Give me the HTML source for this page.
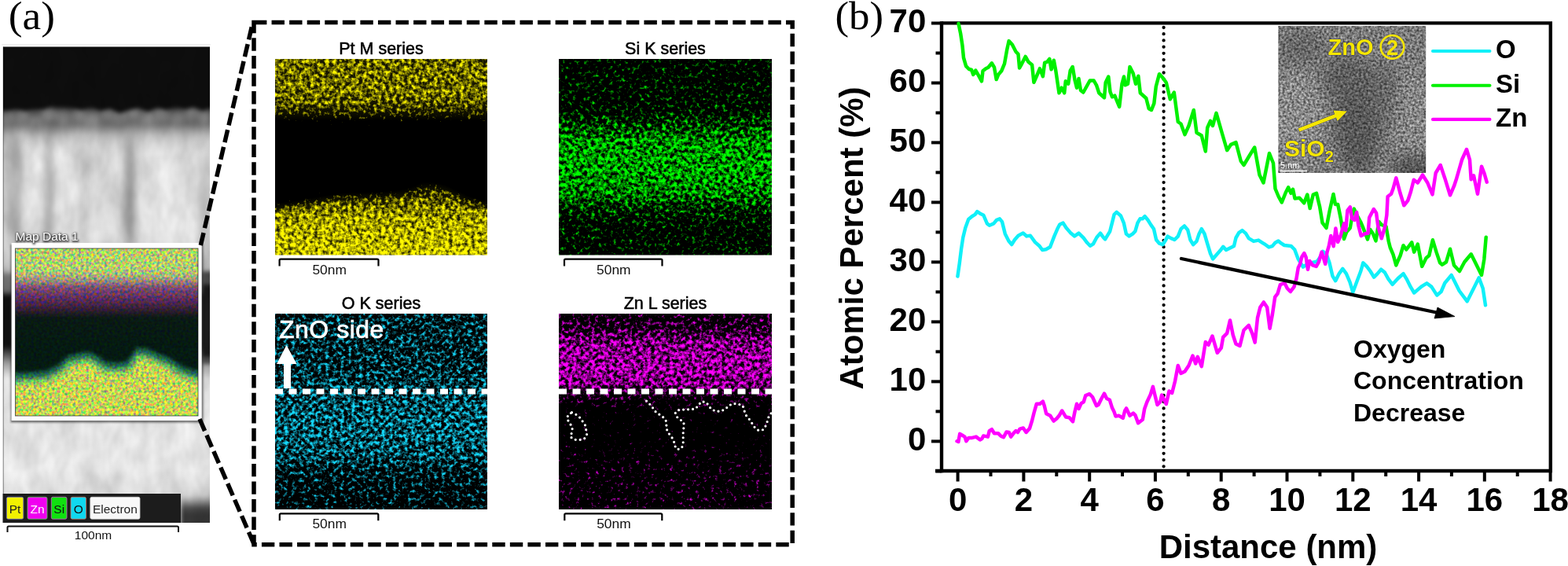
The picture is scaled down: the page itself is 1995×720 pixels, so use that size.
<!DOCTYPE html>
<html><head><meta charset="utf-8"><title>EDS mapping and line profile</title>
<style>html,body{margin:0;padding:0;background:#fff}body{width:1995px;height:720px;overflow:hidden}svg{display:block}</style>
</head><body><svg width="1995" height="720" viewBox="0 0 1995 720"><defs><filter id="fShadow" x="-10%" y="-20%" width="120%" height="140%"><feGaussianBlur stdDeviation="1.1"/></filter><filter id="fPt" filterUnits="userSpaceOnUse" x="330" y="55" width="310" height="289.5" color-interpolation-filters="sRGB">
<feGaussianBlur in="SourceGraphic" stdDeviation="7" result="d"/>
<feTurbulence type="fractalNoise" baseFrequency="0.21" numOctaves="3" seed="3" result="n"/>
<feColorMatrix in="n" type="matrix" values="1 0 0 0 0 1 0 0 0 0 1 0 0 0 0 0 0 0 0 1" result="ng"/>
<feComposite in="d" in2="ng" operator="arithmetic" k1="0" k2="2.2" k3="2.2" k4="-2.2" result="s"/>
<feComponentTransfer in="d" result="base"><feFuncR type="linear" slope="0.22" intercept="-0.06"/><feFuncG type="linear" slope="0.22" intercept="-0.06"/><feFuncB type="linear" slope="0.22" intercept="-0.06"/></feComponentTransfer>
<feBlend in="s" in2="base" mode="lighten" result="s"/>
<feColorMatrix in="s" type="matrix" values="1 0 0 0 0  0.97 0 0 0 0  0 0 0 0 0  0 0 0 0 1"/>
<feGaussianBlur stdDeviation="0.7"/>
</filter><clipPath id="cPt"><rect x="350" y="75" width="270" height="249.5"/></clipPath><linearGradient id="gPtTop" gradientUnits="userSpaceOnUse" x1="0" y1="75" x2="0" y2="175"><stop offset="0.0000" stop-color="rgb(178,178,178)"/><stop offset="0.4300" stop-color="rgb(178,178,178)"/><stop offset="0.5500" stop-color="rgb(171,171,171)"/><stop offset="0.6700" stop-color="rgb(145,145,145)"/><stop offset="0.7700" stop-color="rgb(112,112,112)"/><stop offset="0.8700" stop-color="rgb(82,82,82)"/><stop offset="1.0000" stop-color="rgb(61,61,61)"/></linearGradient><linearGradient id="gPtBot" gradientUnits="userSpaceOnUse" x1="0" y1="212" x2="0" y2="325"><stop offset="0.0000" stop-color="rgb(76,76,76)"/><stop offset="0.1770" stop-color="rgb(117,117,117)"/><stop offset="0.3540" stop-color="rgb(168,168,168)"/><stop offset="0.6018" stop-color="rgb(204,204,204)"/><stop offset="1.0000" stop-color="rgb(217,217,217)"/></linearGradient><filter id="fSi" filterUnits="userSpaceOnUse" x="691" y="55" width="311" height="289.5" color-interpolation-filters="sRGB">
<feGaussianBlur in="SourceGraphic" stdDeviation="5" result="d"/>
<feTurbulence type="fractalNoise" baseFrequency="0.21" numOctaves="3" seed="7" result="n"/>
<feColorMatrix in="n" type="matrix" values="1 0 0 0 0 1 0 0 0 0 1 0 0 0 0 0 0 0 0 1" result="ng"/>
<feComposite in="d" in2="ng" operator="arithmetic" k1="0" k2="3.0" k3="3.0" k4="-3.0" result="s"/>
<feComponentTransfer in="d" result="base"><feFuncR type="linear" slope="0.08" intercept="-0.03"/><feFuncG type="linear" slope="0.08" intercept="-0.03"/><feFuncB type="linear" slope="0.08" intercept="-0.03"/></feComponentTransfer>
<feBlend in="s" in2="base" mode="lighten" result="s"/>
<feColorMatrix in="s" type="matrix" values="0 0 0 0 0  1 0 0 0 0  0 0 0 0 0  0 0 0 0 1"/>
<feGaussianBlur stdDeviation="0.7"/>
</filter><clipPath id="cSi"><rect x="711" y="75" width="271" height="249.5"/></clipPath><linearGradient id="gSi" gradientUnits="userSpaceOnUse" x1="0" y1="75" x2="0" y2="325"><stop offset="0.0000" stop-color="rgb(107,107,107)"/><stop offset="0.2600" stop-color="rgb(112,112,112)"/><stop offset="0.3400" stop-color="rgb(143,143,143)"/><stop offset="0.4200" stop-color="rgb(173,173,173)"/><stop offset="0.5600" stop-color="rgb(178,178,178)"/><stop offset="0.6800" stop-color="rgb(168,168,168)"/><stop offset="0.7600" stop-color="rgb(133,133,133)"/><stop offset="0.8600" stop-color="rgb(112,112,112)"/><stop offset="1.0000" stop-color="rgb(110,110,110)"/></linearGradient><filter id="fO" filterUnits="userSpaceOnUse" x="330" y="379" width="310" height="289" color-interpolation-filters="sRGB">
<feGaussianBlur in="SourceGraphic" stdDeviation="5" result="d"/>
<feTurbulence type="fractalNoise" baseFrequency="0.21" numOctaves="3" seed="11" result="n"/>
<feColorMatrix in="n" type="matrix" values="1 0 0 0 0 1 0 0 0 0 1 0 0 0 0 0 0 0 0 1" result="ng"/>
<feComposite in="d" in2="ng" operator="arithmetic" k1="0" k2="3.0" k3="3.0" k4="-3.0" result="s"/>
<feComponentTransfer in="d" result="base"><feFuncR type="linear" slope="0.08" intercept="-0.03"/><feFuncG type="linear" slope="0.08" intercept="-0.03"/><feFuncB type="linear" slope="0.08" intercept="-0.03"/></feComponentTransfer>
<feBlend in="s" in2="base" mode="lighten" result="s"/>
<feColorMatrix in="s" type="matrix" values="0.08 0 0 0 0  0.86 0 0 0 0  1 0 0 0 0  0 0 0 0 1"/>
<feGaussianBlur stdDeviation="0.7"/>
</filter><clipPath id="cO"><rect x="350" y="399" width="270" height="249"/></clipPath><linearGradient id="gO" gradientUnits="userSpaceOnUse" x1="0" y1="399" x2="0" y2="648"><stop offset="0.0000" stop-color="rgb(135,135,135)"/><stop offset="0.2851" stop-color="rgb(140,140,140)"/><stop offset="0.4257" stop-color="rgb(153,153,153)"/><stop offset="0.5663" stop-color="rgb(161,161,161)"/><stop offset="0.7269" stop-color="rgb(153,153,153)"/><stop offset="0.8072" stop-color="rgb(128,128,128)"/><stop offset="1.0000" stop-color="rgb(112,112,112)"/></linearGradient><filter id="fZn" filterUnits="userSpaceOnUse" x="691" y="379" width="311" height="289" color-interpolation-filters="sRGB">
<feGaussianBlur in="SourceGraphic" stdDeviation="4" result="d"/>
<feTurbulence type="fractalNoise" baseFrequency="0.21" numOctaves="3" seed="5" result="n"/>
<feColorMatrix in="n" type="matrix" values="1 0 0 0 0 1 0 0 0 0 1 0 0 0 0 0 0 0 0 1" result="ng"/>
<feComposite in="d" in2="ng" operator="arithmetic" k1="0" k2="3.0" k3="3.0" k4="-3.0" result="s"/>
<feComponentTransfer in="d" result="base"><feFuncR type="linear" slope="0.08" intercept="-0.03"/><feFuncG type="linear" slope="0.08" intercept="-0.03"/><feFuncB type="linear" slope="0.08" intercept="-0.03"/></feComponentTransfer>
<feBlend in="s" in2="base" mode="lighten" result="s"/>
<feColorMatrix in="s" type="matrix" values="1 0 0 0 0  0 0 0 0 0  1 0 0 0 0  0 0 0 0 1"/>
<feGaussianBlur stdDeviation="0.7"/>
</filter><clipPath id="cZn"><rect x="711" y="399" width="271" height="249"/></clipPath><linearGradient id="gZn" gradientUnits="userSpaceOnUse" x1="0" y1="399" x2="0" y2="648"><stop offset="0.0000" stop-color="rgb(112,112,112)"/><stop offset="0.0763" stop-color="rgb(128,128,128)"/><stop offset="0.1446" stop-color="rgb(168,168,168)"/><stop offset="0.2851" stop-color="rgb(176,176,176)"/><stop offset="0.3655" stop-color="rgb(166,166,166)"/><stop offset="0.4177" stop-color="rgb(120,120,120)"/><stop offset="0.4618" stop-color="rgb(102,102,102)"/><stop offset="0.5100" stop-color="rgb(71,71,71)"/><stop offset="0.6466" stop-color="rgb(71,71,71)"/><stop offset="0.7671" stop-color="rgb(97,97,97)"/><stop offset="1.0000" stop-color="rgb(102,102,102)"/></linearGradient><filter id="fCM" filterUnits="userSpaceOnUse" x="0" y="296" width="272" height="253" color-interpolation-filters="sRGB">
<feGaussianBlur in="SourceGraphic" stdDeviation="2.2" result="d"/>
<feTurbulence type="fractalNoise" baseFrequency="0.3" numOctaves="2" seed="9" result="n"/>
<feColorMatrix in="n" type="matrix" values="1.1 0.6 0 0 -0.35  0.4 -0.8 0 0 0.7  -1.0 0.4 1.1 0 0.25  0 0 0 0 1" result="nc"/>
<feComposite in="d" in2="nc" operator="arithmetic" k1="1.6" k2="0.2" k3="0" k4="0"/>
<feGaussianBlur stdDeviation="0.6"/>
</filter><clipPath id="cCM"><rect x="19.5" y="316" width="232.5" height="213"/></clipPath><linearGradient id="gCMtop" gradientUnits="userSpaceOnUse" x1="0" y1="296" x2="0" y2="440"><stop offset="0.0000" stop-color="rgb(184,209,102)"/><stop offset="0.3403" stop-color="rgb(178,204,112)"/><stop offset="0.4167" stop-color="rgb(158,148,128)"/><stop offset="0.4861" stop-color="rgb(122,76,112)"/><stop offset="0.5833" stop-color="rgb(92,46,92)"/><stop offset="0.6806" stop-color="rgb(51,31,51)"/><stop offset="0.7500" stop-color="rgb(10,26,20)"/><stop offset="1.0000" stop-color="rgb(5,26,18)"/></linearGradient><filter id="fST" filterUnits="userSpaceOnUse" x="-16" y="40" width="303" height="645" color-interpolation-filters="sRGB">
<feGaussianBlur in="SourceGraphic" stdDeviation="2.5" result="d"/>
<feTurbulence type="fractalNoise" baseFrequency="0.04 0.022" numOctaves="3" seed="4" result="n"/>
<feColorMatrix in="n" type="matrix" values="1 0 0 0 0 1 0 0 0 0 1 0 0 0 0 0 0 0 0 1" result="ng"/>
<feComposite in="d" in2="ng" operator="arithmetic" k1="0.26" k2="0.88" k3="0" k4="0"/>
</filter><filter id="fStreak" filterUnits="userSpaceOnUse" x="-30" y="100" width="330" height="260"><feGaussianBlur stdDeviation="5 12"/></filter><filter id="fBump" filterUnits="userSpaceOnUse" x="-30" y="100" width="330" height="120"><feGaussianBlur stdDeviation="3.5 3"/></filter><clipPath id="cST"><rect x="4" y="59.5" width="263" height="605.5"/></clipPath><linearGradient id="gCorner" gradientUnits="userSpaceOnUse" x1="0" y1="620" x2="0" y2="680"><stop offset="0.0000" stop-color="rgb(219,219,219)"/><stop offset="0.1667" stop-color="rgb(204,204,204)"/><stop offset="0.3000" stop-color="rgb(140,140,140)"/><stop offset="0.4333" stop-color="rgb(71,71,71)"/><stop offset="0.5667" stop-color="rgb(51,51,51)"/><stop offset="1.0000" stop-color="rgb(51,51,51)"/></linearGradient><linearGradient id="gST" gradientUnits="userSpaceOnUse" x1="0" y1="59.5" x2="0" y2="665"><stop offset="0.0000" stop-color="rgb(13,13,13)"/><stop offset="0.1247" stop-color="rgb(13,13,13)"/><stop offset="0.1346" stop-color="rgb(71,71,71)"/><stop offset="0.1627" stop-color="rgb(102,102,102)"/><stop offset="0.1858" stop-color="rgb(163,163,163)"/><stop offset="0.2238" stop-color="rgb(207,207,207)"/><stop offset="0.2981" stop-color="rgb(214,214,214)"/><stop offset="0.3972" stop-color="rgb(214,214,214)"/><stop offset="0.4550" stop-color="rgb(196,196,196)"/><stop offset="0.4699" stop-color="rgb(178,178,178)"/><stop offset="0.4798" stop-color="rgb(117,117,117)"/><stop offset="0.5128" stop-color="rgb(102,102,102)"/><stop offset="0.5244" stop-color="rgb(15,15,15)"/><stop offset="0.6284" stop-color="rgb(15,15,15)"/><stop offset="0.6647" stop-color="rgb(153,153,153)"/><stop offset="0.6978" stop-color="rgb(222,222,222)"/><stop offset="0.8927" stop-color="rgb(227,227,227)"/><stop offset="0.9257" stop-color="rgb(219,219,219)"/><stop offset="1.0000" stop-color="rgb(214,214,214)"/></linearGradient><filter id="fIN" filterUnits="userSpaceOnUse" x="1606" y="13" width="228" height="227" color-interpolation-filters="sRGB">
<feGaussianBlur in="SourceGraphic" stdDeviation="9" result="d"/>
<feTurbulence type="fractalNoise" baseFrequency="0.34" numOctaves="2" seed="12" result="n"/>
<feColorMatrix in="n" type="matrix" values="1 0 0 0 0 1 0 0 0 0 1 0 0 0 0 0 0 0 0 1" result="ng"/>
<feComposite in="d" in2="ng" operator="arithmetic" k1="1.7" k2="0.15" k3="0" k4="0"/>
<feGaussianBlur stdDeviation="0.5"/>
</filter><clipPath id="cIN"><rect x="1626.4" y="33" width="187.8" height="187"/></clipPath></defs><text x="10.8" y="36.6" font-family="Liberation Serif" font-size="50.5" textLength="59.2" lengthAdjust="spacingAndGlyphs">(a)</text><line x1="2" y1="56.8" x2="268" y2="56.8" stroke="#e6e6e6" stroke-width="1"/><g clip-path="url(#cST)"><g filter="url(#fST)"><rect x="-16" y="40" width="303" height="645" fill="url(#gST)"/><g filter="url(#fStreak)" opacity="0.95"><rect x="4" y="178" width="12" height="140" fill="rgb(189,189,189)"/><rect x="16" y="178" width="12" height="140" fill="rgb(163,163,163)"/><rect x="28" y="178" width="28" height="140" fill="rgb(224,224,224)"/><rect x="56" y="178" width="12" height="140" fill="rgb(158,158,158)"/><rect x="68" y="178" width="34" height="140" fill="rgb(222,222,222)"/><rect x="102" y="178" width="10" height="140" fill="rgb(184,184,184)"/><rect x="112" y="178" width="44" height="140" fill="rgb(214,214,214)"/><rect x="157" y="178" width="16" height="140" fill="rgb(143,143,143)"/><rect x="173" y="178" width="78" height="140" fill="rgb(224,224,224)"/><rect x="251" y="178" width="20" height="140" fill="rgb(194,194,194)"/></g><g filter="url(#fBump)" opacity="0.7"><circle cx="10" cy="150" r="9" fill="#8a8a8a"/><circle cx="28" cy="148" r="8" fill="#8a8a8a"/><circle cx="45" cy="154" r="8" fill="#8a8a8a"/><circle cx="62" cy="146" r="9" fill="#8a8a8a"/><circle cx="80" cy="150" r="10" fill="#8a8a8a"/><circle cx="100" cy="147" r="8" fill="#8a8a8a"/><circle cx="118" cy="152" r="9" fill="#8a8a8a"/><circle cx="136" cy="146" r="8" fill="#8a8a8a"/><circle cx="152" cy="150" r="9" fill="#8a8a8a"/><circle cx="170" cy="144" r="8" fill="#8a8a8a"/><circle cx="188" cy="151" r="9" fill="#8a8a8a"/><circle cx="206" cy="146" r="10" fill="#8a8a8a"/><circle cx="226" cy="150" r="8" fill="#8a8a8a"/><circle cx="244" cy="145" r="9" fill="#8a8a8a"/><circle cx="260" cy="149" r="8" fill="#8a8a8a"/></g><path d="M-16,40 H290 V138 L280,140 L268,137 L258,141 L246,136 L236,139 L224,135 L212,140 L200,137 L188,142 L176,137 L164,140 L152,144 L140,138 L128,141 L116,136 L104,140 L92,137 L80,135 L68,134 L56,139 L44,139 L32,141 L20,139 L8,141 L-16,138 Z" fill="#0d0d0d"/><rect x="257" y="345" width="30" height="118" fill="#4a4a4a"/><rect x="257" y="362" width="30" height="92" fill="#1a1a1a"/><rect x="230" y="620" width="60" height="60" fill="url(#gCorner)"/></g></g><line x1="4.2" y1="59.5" x2="4.2" y2="665" stroke="#000" stroke-width="0.8" opacity="0.6"/><rect x="13.5" y="311" width="245" height="226.5" fill="#222" opacity="0.6" filter="url(#fShadow)"/><rect x="14.6" y="309" width="242.1" height="226" fill="#fff"/><g clip-path="url(#cCM)"><g filter="url(#fCM)"><rect x="0" y="296" width="272" height="253" fill="url(#gCMtop)"/><path d="M0,476 L20,475 L40,474 L60,472 L78,463 L88,453 L100,450 L112,448 L124,454 L134,461 L150,462 L164,460 L171,450 L176,443 L186,444 L200,450 L215,456 L230,466 L245,471 L262,474 L272,475 L272,549 L0,549 Z" fill="rgb(196,212,86)"/><path d="M0,476 L20,475 L40,474 L60,472 L78,463 L88,453 L100,450 L112,448 L124,454 L134,461 L150,462 L164,460 L171,450 L176,443 L186,444 L200,450 L215,456 L230,466 L245,471 L262,474 L272,475" transform="translate(0,4)" fill="none" stroke="rgb(30,100,78)" stroke-width="9"/><path d="M0,476 L20,475 L40,474 L60,472 L78,463 L88,453 L100,450 L112,448 L124,454 L134,461 L150,462 L164,460 L171,450 L176,443 L186,444 L200,450 L215,456 L230,466 L245,471 L262,474 L272,475" transform="translate(0,11)" fill="none" stroke="rgb(110,180,100)" stroke-width="8" opacity="0.8"/></g></g><rect x="19.5" y="316" width="232.5" height="213" fill="none" stroke="#000" stroke-width="1" opacity="0.6"/><text x="20" y="306.5" font-family="Liberation Sans" font-size="15.5" fill="#222" stroke="#222" stroke-width="2" opacity="0.75" filter="url(#fShadow)">Map Data 1</text><text x="19.5" y="306" font-family="Liberation Sans" font-size="15.5" fill="#fff">Map Data 1</text><rect x="3.6" y="628" width="226.4" height="37" fill="#1c1c1c"/><rect x="8.4" y="632.3" width="21.4" height="28" rx="2" fill="#f2f200" stroke="#6a6ad0" stroke-width="0.8"/><text x="19.1" y="653.3" font-family="Liberation Sans" font-size="15.5" fill="#222" text-anchor="middle">Pt</text><rect x="35" y="632.3" width="25.0" height="28" rx="2" fill="#f000f0" stroke="#60d060" stroke-width="0.8"/><text x="47.5" y="653.3" font-family="Liberation Sans" font-size="15.5" fill="#fff" text-anchor="middle">Zn</text><rect x="65.3" y="632.3" width="19.7" height="28" rx="2" fill="#10e010" stroke="#d060d0" stroke-width="0.8"/><text x="75.2" y="653.3" font-family="Liberation Sans" font-size="15.5" fill="#111" text-anchor="middle">Si</text><rect x="90" y="632.3" width="19.5" height="28" rx="2" fill="#10d8f0" stroke="#d07060" stroke-width="0.8"/><text x="99.8" y="653.3" font-family="Liberation Sans" font-size="15.5" fill="#111" text-anchor="middle">O</text><rect x="114.8" y="632.3" width="63.2" height="28" rx="2" fill="#f8f8f8" stroke="#ccc" stroke-width="0.8"/><text x="146.4" y="653.3" font-family="Liberation Sans" font-size="15.5" fill="#222" text-anchor="middle">Electron</text><path d="M9.5,677 V671 Q9.5,669.5 11,669.5 H225.5 Q227,669.5 227,671 V677" fill="none" stroke="#111" stroke-width="2"/><text x="118.5" y="686" font-family="Liberation Sans" font-size="15.5" text-anchor="middle" fill="#111">100nm</text><g clip-path="url(#cPt)"><g filter="url(#fPt)"><rect x="330" y="55" width="310" height="289.5" fill="#000"/><rect x="330" y="55" width="310" height="100" fill="url(#gPtTop)"/><path d="M330,266 L352,260 L381,256 L435,246 L489,245 L515,241 L528,238 L533,229 L562,232 L598,252 L640,262 L640,345 L330,345 Z" fill="url(#gPtBot)"/></g></g><g clip-path="url(#cSi)"><g filter="url(#fSi)"><rect x="691" y="55" width="311" height="289.5" fill="#000"/><rect x="691" y="55" width="311" height="289.5" fill="url(#gSi)"/></g></g><g clip-path="url(#cO)"><g filter="url(#fO)"><rect x="330" y="379" width="310" height="289" fill="#000"/><rect x="330" y="379" width="310" height="289" fill="url(#gO)"/></g></g><g clip-path="url(#cZn)"><g filter="url(#fZn)"><rect x="691" y="379" width="311" height="289" fill="#000"/><rect x="691" y="379" width="311" height="289" fill="url(#gZn)"/></g></g><text x="485" y="69" font-family="Liberation Sans" font-size="21.5" stroke="#000" stroke-width="0.55" text-anchor="middle">Pt M series</text><text x="846.5" y="69" font-family="Liberation Sans" font-size="21.5" stroke="#000" stroke-width="0.55" text-anchor="middle">Si K series</text><text x="485" y="393" font-family="Liberation Sans" font-size="21.5" stroke="#000" stroke-width="0.55" text-anchor="middle">O K series</text><text x="846.5" y="393" font-family="Liberation Sans" font-size="21.5" stroke="#000" stroke-width="0.55" text-anchor="middle">Zn L series</text><path d="M355.6,338.6 V331.1 Q355.6,329.6 357.1,329.6 H480.0 Q481.5,329.6 481.5,331.1 V338.6" fill="none" stroke="#000" stroke-width="2.2"/><text x="419.15000000000003" y="348.5" font-family="Liberation Sans" font-size="17.4" text-anchor="middle" fill="#111">50nm</text><path d="M718,338.6 V331.1 Q718,329.6 719.5,329.6 H841.0 Q842.5,329.6 842.5,331.1 V338.6" fill="none" stroke="#000" stroke-width="2.2"/><text x="780.85" y="348.5" font-family="Liberation Sans" font-size="17.4" text-anchor="middle" fill="#111">50nm</text><path d="M355.8,662.3 V654.8 Q355.8,653.3 357.3,653.3 H479.8 Q481.3,653.3 481.3,654.8 V662.3" fill="none" stroke="#000" stroke-width="2.2"/><text x="419.15000000000003" y="672.2" font-family="Liberation Sans" font-size="17.4" text-anchor="middle" fill="#111">50nm</text><path d="M718.3,662.3 V654.8 Q718.3,653.3 719.8,653.3 H840.8 Q842.3,653.3 842.3,654.8 V662.3" fill="none" stroke="#000" stroke-width="2.2"/><text x="780.9" y="672.2" font-family="Liberation Sans" font-size="17.4" text-anchor="middle" fill="#111">50nm</text><line x1="350" y1="498" x2="620" y2="498" stroke="#fff" stroke-width="7" stroke-dasharray="10 7.5"/><line x1="711" y1="498" x2="982" y2="498" stroke="#fff" stroke-width="7" stroke-dasharray="10 7.5"/><text x="355" y="430" font-family="Liberation Sans" font-size="32" fill="#fff" stroke="#fff" stroke-width="0.7" letter-spacing="0.5">ZnO side</text><path d="M361,494 V463 H352 L364.5,439 L377.5,463 H370 V494 Z" fill="#fff"/><polyline points="727.5,524.7 733.3,527.5 738.3,531.7 741.7,536.7 745.0,541.7 745.8,547.5 746.7,553.3 743.3,558.3 736.7,559.7 730.8,559.2 725.8,555.8 727.5,550.0 728.3,544.2 725.0,538.3 721.7,533.3 722.5,528.3 727.5,524.7" fill="none" stroke="#fff" stroke-width="3.2" stroke-dasharray="0 6" stroke-linecap="round" stroke-linejoin="round"/><polyline points="822.5,510.0 828.3,515.8 835.0,525.0 840.8,528.3 845.8,532.5 848.3,537.5 847.5,544.2 850.0,550.0 855.0,556.7 857.5,561.7 858.3,566.7 861.7,571.7 867.5,570.0 869.2,563.3 869.2,556.7 869.2,550.0 870.0,543.3 870.0,537.5 865.0,533.3 860.8,530.0 859.2,525.0 863.3,521.7 871.7,520.8 878.3,520.8 885.0,520.0 888.3,515.8 892.5,510.8 898.3,511.7 901.7,515.8 905.0,520.8 911.7,523.3 917.5,523.0 923.3,520.0 927.5,515.8 933.3,513.3 940.0,514.2 945.0,515.8 946.7,521.7 949.2,528.3 953.3,533.3 956.7,538.3 960.0,543.3 965.0,547.5 970.8,546.7 974.2,541.7 976.7,535.0 978.3,529.2 981.7,525.0" fill="none" stroke="#fff" stroke-width="3.2" stroke-dasharray="0 6" stroke-linecap="round" stroke-linejoin="round"/><path d="M323,28.5 H1008.2 V692.8 H323 Z" fill="none" stroke="#000" stroke-width="5.5" stroke-dasharray="16.4 6.166"/><line x1="255.3" y1="312" x2="321.5" y2="29" stroke="#000" stroke-width="5.5" stroke-dasharray="16.4 6"/><line x1="254" y1="533" x2="323.5" y2="693" stroke="#000" stroke-width="5.5" stroke-dasharray="16.4 6"/><path d="M1198,29.4 H1972.8 V599 H1190" fill="none" stroke="#000" stroke-width="4.4"/><line x1="1198" y1="27.2" x2="1198" y2="601.2" stroke="#000" stroke-width="4.4"/><line x1="1190.5" y1="599.4" x2="1198" y2="599.4" stroke="#000" stroke-width="4"/><line x1="1185" y1="561.4" x2="1198" y2="561.4" stroke="#000" stroke-width="4"/><text x="1178.3" y="572.6" font-family="Liberation Sans" font-weight="bold" font-size="42" text-anchor="end">0</text><line x1="1190.5" y1="523.4" x2="1198" y2="523.4" stroke="#000" stroke-width="4"/><line x1="1185" y1="485.4" x2="1198" y2="485.4" stroke="#000" stroke-width="4"/><text x="1178.3" y="496.6" font-family="Liberation Sans" font-weight="bold" font-size="42" text-anchor="end">10</text><line x1="1190.5" y1="447.4" x2="1198" y2="447.4" stroke="#000" stroke-width="4"/><line x1="1185" y1="409.4" x2="1198" y2="409.4" stroke="#000" stroke-width="4"/><text x="1178.3" y="420.6" font-family="Liberation Sans" font-weight="bold" font-size="42" text-anchor="end">20</text><line x1="1190.5" y1="371.4" x2="1198" y2="371.4" stroke="#000" stroke-width="4"/><line x1="1185" y1="333.4" x2="1198" y2="333.4" stroke="#000" stroke-width="4"/><text x="1178.3" y="344.6" font-family="Liberation Sans" font-weight="bold" font-size="42" text-anchor="end">30</text><line x1="1190.5" y1="295.4" x2="1198" y2="295.4" stroke="#000" stroke-width="4"/><line x1="1185" y1="257.4" x2="1198" y2="257.4" stroke="#000" stroke-width="4"/><text x="1178.3" y="268.6" font-family="Liberation Sans" font-weight="bold" font-size="42" text-anchor="end">40</text><line x1="1190.5" y1="219.4" x2="1198" y2="219.4" stroke="#000" stroke-width="4"/><line x1="1185" y1="181.4" x2="1198" y2="181.4" stroke="#000" stroke-width="4"/><text x="1178.3" y="192.6" font-family="Liberation Sans" font-weight="bold" font-size="42" text-anchor="end">50</text><line x1="1190.5" y1="143.5" x2="1198" y2="143.5" stroke="#000" stroke-width="4"/><line x1="1185" y1="105.5" x2="1198" y2="105.5" stroke="#000" stroke-width="4"/><text x="1178.3" y="116.7" font-family="Liberation Sans" font-weight="bold" font-size="42" text-anchor="end">60</text><line x1="1190.5" y1="67.5" x2="1198" y2="67.5" stroke="#000" stroke-width="4"/><line x1="1185" y1="29.5" x2="1198" y2="29.5" stroke="#000" stroke-width="4"/><text x="1178.3" y="40.7" font-family="Liberation Sans" font-weight="bold" font-size="42" text-anchor="end">70</text><line x1="1218.6" y1="599" x2="1218.6" y2="612.5" stroke="#000" stroke-width="4"/><text x="1218.6" y="650" font-family="Liberation Sans" font-weight="bold" font-size="42" text-anchor="middle">0</text><line x1="1260.5" y1="599" x2="1260.5" y2="606" stroke="#000" stroke-width="4"/><line x1="1302.4" y1="599" x2="1302.4" y2="612.5" stroke="#000" stroke-width="4"/><text x="1302.4" y="650" font-family="Liberation Sans" font-weight="bold" font-size="42" text-anchor="middle">2</text><line x1="1344.3" y1="599" x2="1344.3" y2="606" stroke="#000" stroke-width="4"/><line x1="1386.2" y1="599" x2="1386.2" y2="612.5" stroke="#000" stroke-width="4"/><text x="1386.2" y="650" font-family="Liberation Sans" font-weight="bold" font-size="42" text-anchor="middle">4</text><line x1="1428.0" y1="599" x2="1428.0" y2="606" stroke="#000" stroke-width="4"/><line x1="1469.9" y1="599" x2="1469.9" y2="612.5" stroke="#000" stroke-width="4"/><text x="1469.9" y="650" font-family="Liberation Sans" font-weight="bold" font-size="42" text-anchor="middle">6</text><line x1="1511.8" y1="599" x2="1511.8" y2="606" stroke="#000" stroke-width="4"/><line x1="1553.7" y1="599" x2="1553.7" y2="612.5" stroke="#000" stroke-width="4"/><text x="1553.7" y="650" font-family="Liberation Sans" font-weight="bold" font-size="42" text-anchor="middle">8</text><line x1="1595.6" y1="599" x2="1595.6" y2="606" stroke="#000" stroke-width="4"/><line x1="1637.5" y1="599" x2="1637.5" y2="612.5" stroke="#000" stroke-width="4"/><text x="1637.5" y="650" font-family="Liberation Sans" font-weight="bold" font-size="42" text-anchor="middle">10</text><line x1="1679.4" y1="599" x2="1679.4" y2="606" stroke="#000" stroke-width="4"/><line x1="1721.3" y1="599" x2="1721.3" y2="612.5" stroke="#000" stroke-width="4"/><text x="1721.3" y="650" font-family="Liberation Sans" font-weight="bold" font-size="42" text-anchor="middle">12</text><line x1="1763.2" y1="599" x2="1763.2" y2="606" stroke="#000" stroke-width="4"/><line x1="1805.1" y1="599" x2="1805.1" y2="612.5" stroke="#000" stroke-width="4"/><text x="1805.1" y="650" font-family="Liberation Sans" font-weight="bold" font-size="42" text-anchor="middle">14</text><line x1="1846.9" y1="599" x2="1846.9" y2="606" stroke="#000" stroke-width="4"/><line x1="1888.8" y1="599" x2="1888.8" y2="612.5" stroke="#000" stroke-width="4"/><text x="1888.8" y="650" font-family="Liberation Sans" font-weight="bold" font-size="42" text-anchor="middle">16</text><line x1="1930.7" y1="599" x2="1930.7" y2="606" stroke="#000" stroke-width="4"/><line x1="1972.6" y1="599" x2="1972.6" y2="612.5" stroke="#000" stroke-width="4"/><text x="1972.6" y="650" font-family="Liberation Sans" font-weight="bold" font-size="42" text-anchor="middle">18</text><text x="1613.5" y="710" font-family="Liberation Sans" font-weight="bold" font-size="42" text-anchor="middle">Distance (nm)</text><text transform="translate(1098.3,303) rotate(-90)" font-family="Liberation Sans" font-weight="bold" font-size="42" text-anchor="middle">Atomic Percent (%)</text><line x1="1480.6" y1="35" x2="1480.6" y2="594" stroke="#000" stroke-width="4.3" stroke-dasharray="0.01 8.2" stroke-linecap="round"/><polyline points="1219.5,29.9 1222.2,42.9 1224.5,58.2 1226.0,73.5 1229.1,84.2 1232.9,88.0 1236.0,88.7 1238.3,94.9 1241.3,89.5 1244.4,94.9 1249.0,103.3 1250.5,90.3 1254.3,87.2 1257.4,85.7 1261.9,80.3 1265.0,85.7 1267.7,101.0 1270.3,94.9 1274.2,90.3 1278.0,81.1 1281.0,64.3 1283.6,52.1 1287.9,56.7 1292.5,65.8 1295.5,68.9 1297.1,86.5 1300.1,81.1 1304.7,71.9 1308.5,78.8 1313.1,82.6 1315.4,104.8 1318.5,97.9 1323.0,87.2 1326.9,97.1 1329.2,79.6 1332.2,78.8 1335.3,75.0 1337.6,88.3 1340.8,76.7 1343.3,90.0 1347.5,118.3 1350.8,111.7 1354.2,118.3 1355.8,103.3 1359.2,106.7 1361.7,90.0 1364.7,85.0 1367.5,101.7 1370.0,111.7 1372.5,100.0 1375.0,115.0 1378.3,117.5 1382.5,110.0 1386.7,102.5 1391.7,102.5 1395.0,108.3 1398.3,118.3 1405.0,124.2 1406.7,105.0 1410.3,97.5 1412.5,116.7 1415.0,123.3 1418.3,121.7 1424.2,135.8 1427.5,106.7 1430.0,97.5 1431.7,108.3 1435.0,106.7 1437.5,85.0 1441.7,93.3 1445.0,106.7 1448.3,96.7 1450.8,118.3 1458.3,125.0 1461.7,138.3 1465.0,140.0 1468.3,131.7 1470.8,110.0 1475.0,94.2 1478.3,97.5 1481.0,101.2 1483.8,105.0 1488.8,126.2 1493.8,117.5 1498.8,155.0 1502.5,157.5 1507.5,171.2 1512.5,160.0 1518.8,140.0 1522.5,168.8 1528.8,172.5 1533.8,192.5 1536.2,162.5 1540.0,153.8 1543.0,160.0 1547.5,143.8 1555.0,170.0 1561.2,191.2 1566.2,183.8 1572.5,181.2 1578.8,205.0 1582.5,210.0 1590.0,197.5 1596.2,187.5 1602.5,222.5 1607.5,232.5 1615.0,195.0 1620.0,207.5 1622.5,240.0 1626.7,250.0 1630.8,257.5 1635.8,245.0 1639.2,238.3 1642.5,245.8 1645.0,240.8 1647.5,252.5 1653.3,251.7 1659.2,258.3 1663.3,247.5 1666.7,265.0 1670.8,247.5 1675.0,245.8 1679.2,263.3 1682.5,283.3 1687.5,290.0 1691.7,268.3 1696.5,247.0 1699.0,260.0 1702.2,260.0 1705.6,276.7 1710.0,304.0 1713.3,295.0 1717.8,290.0 1720.6,273.3 1722.8,265.6 1725.6,272.2 1731.0,282.0 1734.4,290.0 1740.0,304.4 1743.3,292.0 1746.7,297.0 1750.5,306.5 1754.3,282.0 1757.8,286.0 1763.5,288.0 1766.7,306.7 1768.8,315.0 1772.5,323.6 1776.3,337.5 1779.0,331.0 1781.7,325.0 1785.5,312.2 1789.3,317.5 1796.2,308.3 1799.2,320.6 1803.8,310.6 1809.2,338.9 1814.5,328.2 1818.3,325.1 1822.9,305.3 1827.5,320.6 1832.1,334.3 1835.0,336.7 1840.0,333.3 1845.0,316.7 1850.0,337.5 1857.0,345.0 1863.3,333.3 1871.7,323.3 1876.7,333.3 1885.0,350.0 1888.3,330.0 1890.7,301.7" fill="none" stroke="#00f000" stroke-width="4.5" stroke-linejoin="round" stroke-linecap="round"/><polyline points="1218.4,351.6 1220.7,335.6 1223.0,317.2 1225.3,302.0 1228.3,289.7 1232.2,279.0 1236.7,275.2 1240.6,272.9 1243.3,269.1 1246.7,271.4 1251.3,273.7 1255.9,284.4 1258.9,286.7 1264.3,284.4 1268.1,279.8 1271.9,278.3 1275.0,282.1 1278.8,297.4 1283.4,306.5 1287.2,311.1 1291.0,305.0 1295.6,299.7 1301.7,296.6 1306.3,300.4 1310.9,299.7 1317.0,308.1 1322.3,312.7 1326.2,318.0 1330.7,317.2 1336.1,314.2 1341.4,300.4 1345.3,291.3 1348.3,285.5 1352.6,283.6 1356.5,289.7 1361.8,295.9 1367.2,300.4 1372.5,296.6 1378.6,302.7 1383.2,308.8 1387.0,312.7 1390.9,310.4 1395.4,302.0 1400.0,296.6 1403.8,302.0 1406.1,304.3 1412.2,294.3 1415.3,282.1 1417.6,272.9 1420.7,269.9 1426.0,274.5 1429.8,283.6 1432.9,297.4 1436.7,300.4 1441.3,297.4 1444.3,294.3 1447.4,283.6 1450.5,278.3 1453.5,278.3 1456.6,275.2 1460.4,279.8 1464.2,285.9 1468.0,291.3 1471.1,305.0 1474.9,309.6 1479.5,311.1 1483.3,305.0 1485.6,300.6 1490.0,303.1 1494.4,305.0 1498.8,300.6 1502.5,291.2 1506.9,287.5 1511.2,292.5 1514.4,305.0 1518.1,311.2 1522.5,306.9 1525.6,297.5 1528.8,291.2 1532.5,297.5 1536.2,310.0 1540.0,322.5 1543.1,329.4 1548.1,323.8 1552.5,318.8 1556.2,313.8 1560.0,318.1 1565.0,315.6 1570.0,313.1 1572.5,302.5 1576.2,296.2 1580.6,293.1 1585.0,296.9 1588.8,303.1 1595.0,306.9 1601.2,305.6 1606.2,308.8 1610.0,311.2 1614.4,314.4 1618.8,313.1 1622.5,308.8 1626.5,306.5 1630.0,309.4 1634.0,312.0 1642.6,312.9 1647.2,317.5 1651.8,329.7 1657.9,339.7 1663.3,335.8 1668.6,334.3 1675.5,332.8 1680.1,326.7 1683.1,319.8 1687.7,323.6 1691.5,334.3 1695.4,351.1 1699.2,357.2 1703.8,348.1 1708.3,341.9 1712.9,348.1 1717.5,358.8 1721.3,371.7 1726.7,357.2 1731.3,345.0 1734.3,334.3 1738.9,338.9 1743.5,345.0 1748.1,352.6 1752.6,348.1 1757.2,342.7 1761.8,346.5 1766.4,354.9 1771.7,361.8 1778.6,354.2 1785.5,348.1 1790.1,355.7 1794.7,364.9 1799.2,372.5 1804.6,367.9 1809.2,364.1 1815.3,360.3 1821.4,364.9 1828.3,375.6 1833.6,371.0 1838.3,360.0 1846.7,350.0 1856.7,370.0 1866.7,383.3 1875.0,366.7 1881.7,353.3 1886.7,366.7 1890.0,388.3" fill="none" stroke="#10f0f8" stroke-width="4.5" stroke-linejoin="round" stroke-linecap="round"/><polyline points="1217.5,561.2 1219.4,561.9 1221.2,551.9 1224.4,553.8 1227.5,555.6 1229.4,561.2 1232.5,556.9 1236.9,556.9 1241.9,555.6 1246.9,559.4 1249.4,558.1 1251.2,554.4 1256.9,555.6 1258.8,548.1 1261.9,546.2 1265.0,551.2 1270.0,551.2 1273.8,555.0 1276.9,556.2 1280.6,549.4 1283.8,550.0 1286.2,555.6 1290.0,550.6 1292.5,548.1 1295.0,550.0 1297.5,545.6 1301.9,544.4 1305.6,550.0 1310.0,545.0 1313.1,535.0 1315.6,525.0 1318.8,513.8 1323.1,513.8 1326.9,510.6 1328.8,516.2 1331.2,526.2 1336.2,528.8 1340.6,535.6 1344.4,532.5 1347.5,528.8 1351.2,522.5 1356.2,530.6 1360.6,531.2 1365.0,536.2 1367.5,523.8 1370.0,513.8 1372.5,520.0 1375.6,513.1 1378.8,511.2 1381.2,503.1 1386.2,501.2 1390.0,505.0 1395.0,516.2 1397.5,515.0 1401.2,507.5 1405.0,500.6 1408.1,506.9 1411.9,508.8 1415.0,518.8 1417.5,523.8 1419.4,529.4 1423.8,528.8 1428.8,531.9 1431.2,522.5 1433.1,519.4 1437.5,528.8 1441.9,525.6 1444.4,528.1 1448.1,538.1 1453.8,533.8 1456.2,520.0 1459.4,511.2 1463.8,501.9 1466.9,491.9 1469.4,502.5 1472.5,515.0 1476.2,511.2 1478.1,502.5 1481.2,508.8 1483.8,514.0 1487.5,497.5 1491.2,500.0 1495.0,485.0 1498.8,465.0 1502.5,475.0 1507.5,472.5 1512.5,465.0 1517.5,452.5 1521.2,462.5 1523.8,453.8 1528.8,466.2 1533.8,435.0 1537.5,438.8 1542.5,427.5 1548.8,448.8 1553.8,442.5 1556.2,428.8 1561.2,423.8 1565.0,407.5 1568.8,426.2 1572.5,437.5 1577.5,440.0 1582.5,420.0 1588.8,413.8 1593.3,424.4 1596.7,435.6 1600.0,404.4 1603.3,391.1 1607.8,384.4 1612.2,391.1 1615.6,417.8 1618.9,400.0 1622.2,377.8 1625.6,373.3 1628.9,362.2 1634.4,360.0 1637.8,366.7 1641.9,371.0 1646.5,364.9 1649.5,354.2 1651.8,340.4 1654.1,335.8 1656.4,326.7 1659.4,322.1 1661.7,327.4 1664.0,342.7 1666.3,332.0 1670.1,337.4 1674.7,338.9 1677.8,333.5 1681.6,320.6 1683.9,328.2 1686.2,335.8 1688.5,320.6 1690.8,312.9 1693.3,300.0 1696.7,313.3 1699.4,290.6 1702.2,307.8 1705.6,300.0 1710.0,284.4 1712.2,293.3 1714.4,267.8 1717.8,263.3 1720.0,277.8 1723.3,280.0 1726.1,270.0 1728.3,286.7 1731.7,300.0 1736.7,297.2 1740.6,296.7 1742.2,276.7 1747.8,266.1 1751.1,271.1 1753.3,287.8 1757.8,303.3 1762.2,287.8 1764.4,273.3 1765.6,250.0 1770.0,246.7 1772.5,240.0 1776.3,226.3 1781.3,245.0 1786.3,261.3 1791.3,255.0 1795.0,243.8 1798.8,228.8 1803.8,232.5 1810.0,222.5 1816.3,232.5 1822.5,247.5 1826.7,220.0 1832.7,210.0 1838.3,226.7 1845.0,248.3 1850.0,236.7 1853.3,226.7 1860.0,203.3 1866.0,190.0 1870.0,203.3 1871.7,228.3 1875.0,223.3 1880.0,246.7 1885.0,211.7 1888.3,220.0 1891.7,231.7" fill="none" stroke="#ff00ff" stroke-width="4.5" stroke-linejoin="round" stroke-linecap="round"/><line x1="1503" y1="329" x2="1830" y2="398" stroke="#000" stroke-width="4.3" stroke-linecap="round"/><path d="M1851,402.6 L1829,391 L1825,405 Z" fill="#000" stroke="#000" stroke-width="0.8" stroke-linejoin="round"/><line x1="1823" y1="65" x2="1895.4" y2="65" stroke="#10f0f8" stroke-width="4.2" stroke-linecap="round"/><text x="1903" y="74" font-family="Liberation Sans" font-weight="bold" font-size="33">O</text><line x1="1823" y1="108.75" x2="1895.4" y2="108.75" stroke="#00f000" stroke-width="4.2" stroke-linecap="round"/><text x="1903" y="117.75" font-family="Liberation Sans" font-weight="bold" font-size="33">Si</text><line x1="1823" y1="151.9" x2="1895.4" y2="151.9" stroke="#ff00ff" stroke-width="4.2" stroke-linecap="round"/><text x="1903" y="160.9" font-family="Liberation Sans" font-weight="bold" font-size="33">Zn</text><text x="1722" y="454.8" font-family="Liberation Sans" font-weight="bold" font-size="32">Oxygen</text><text x="1722" y="495.4" font-family="Liberation Sans" font-weight="bold" font-size="32">Concentration</text><text x="1722" y="536.0" font-family="Liberation Sans" font-weight="bold" font-size="32">Decrease</text><g clip-path="url(#cIN)"><g filter="url(#fIN)"><rect x="1606" y="13" width="228" height="227" fill="#7a7a7a"/><ellipse cx="1650" cy="150" rx="34" ry="60" fill="#8a8a8a"/><ellipse cx="1800" cy="150" rx="26" ry="60" fill="#868686"/><ellipse cx="1728" cy="150" rx="30" ry="72" fill="#585858"/><ellipse cx="1712" cy="100" rx="28" ry="30" fill="#5e5e5e"/><ellipse cx="1760" cy="120" rx="18" ry="40" fill="#666"/><ellipse cx="1655" cy="60" rx="30" ry="22" fill="#686868"/><rect x="1775" y="198" width="60" height="40" fill="#555"/></g></g><text x="1689.5" y="70" font-family="Liberation Sans" font-weight="bold" font-size="29" fill="#f5e600" stroke="#3a3a70" stroke-width="1.2" paint-order="stroke">ZnO</text><circle cx="1771.5" cy="59.8" r="14.8" fill="none" stroke="#f5e600" stroke-width="2.6"/><text x="1771.5" y="70" font-family="Liberation Sans" font-weight="bold" font-size="27" fill="#f5e600" text-anchor="middle">2</text><text x="1634" y="199.2" font-family="Liberation Sans" font-weight="bold" font-size="30" fill="#f5e600" stroke="#3a3a70" stroke-width="1.2" paint-order="stroke">SiO<tspan font-size="20" dy="7">2</tspan></text><path d="M1653.3,167.4 L1699.9,149.5 L1701.7,154.1 L1714.0,141.6 L1696.5,140.6 L1698.2,145.2 L1651.7,163.2 Z" fill="#f5e600" stroke="#3a3a70" stroke-width="1" stroke-linejoin="round" paint-order="stroke"/><text x="1629" y="214" font-family="Liberation Sans" font-size="11" fill="#fff">5 nm</text><line x1="1628" y1="217.5" x2="1663" y2="217.5" stroke="#fff" stroke-width="1.5"/><text x="1062.5" y="36.8" font-family="Liberation Serif" font-size="51" textLength="61.5" lengthAdjust="spacingAndGlyphs">(b)</text></svg></body></html>
